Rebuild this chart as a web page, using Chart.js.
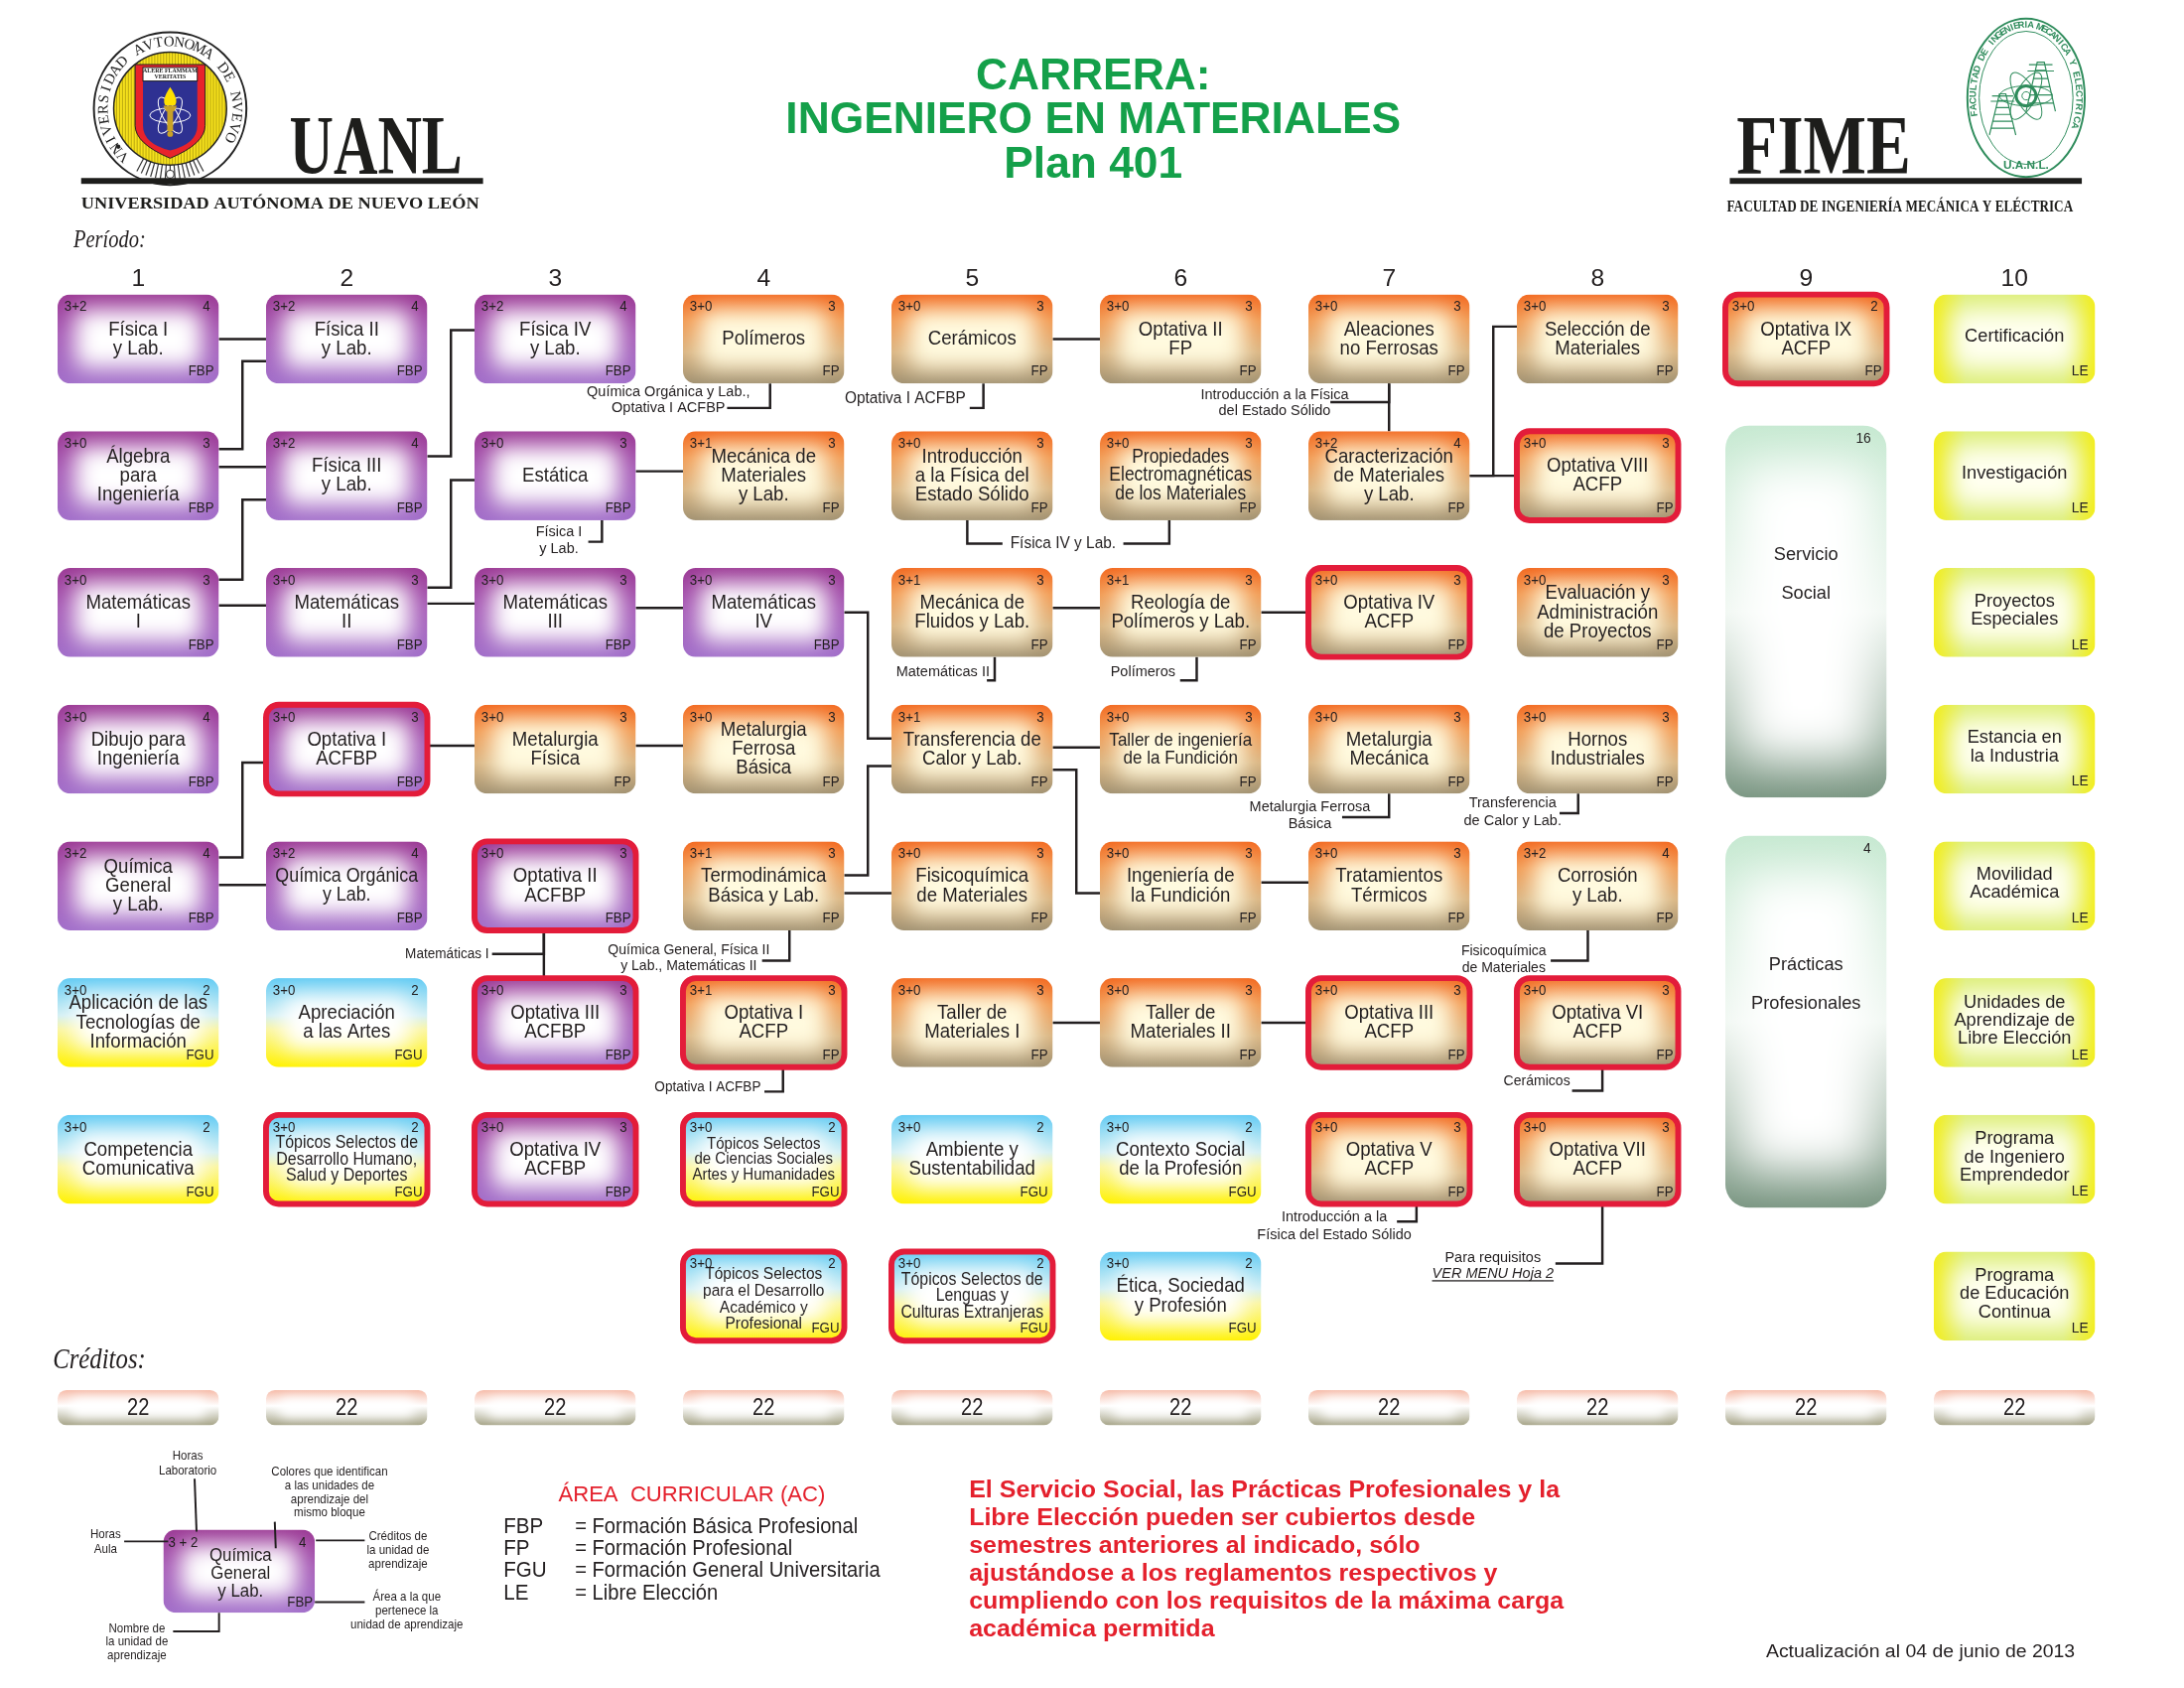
<!DOCTYPE html>
<html><head><meta charset="utf-8">
<script src="https://cdn.jsdelivr.net/npm/chart.js@4.4.0/dist/chart.umd.min.js"></script>
<style>html,body{margin:0;padding:0;background:#fff}canvas{display:block}</style>
</head><body>
<canvas id="c" width="2200" height="1700" style="width:2200px;height:1700px"></canvas>
<script>
// ===================== DATA =====================
const periodLabels = ['1','2','3','4','5','6','7','8','9','10'];
const creditsPerPeriod = [22,22,22,22,22,22,22,22,22,22];
// [name, hours (aula+lab), credits, area, elective(red frame)]
const period1 = [
  ['Física I\ny Lab.','3+2',4,'FBP',0],
  ['Álgebra\npara\nIngeniería','3+0',3,'FBP',0],
  ['Matemáticas\nI','3+0',3,'FBP',0],
  ['Dibujo para\nIngeniería','3+0',4,'FBP',0],
  ['Química\nGeneral\ny Lab.','3+2',4,'FBP',0],
  ['Aplicación de las\nTecnologías de\nInformación','3+0',2,'FGU',0],
  ['Competencia\nComunicativa','3+0',2,'FGU',0]
];
const period2 = [
  ['Física II\ny Lab.','3+2',4,'FBP',0],
  ['Física III\ny Lab.','3+2',4,'FBP',0],
  ['Matemáticas\nII','3+0',3,'FBP',0],
  ['Optativa I\nACFBP','3+0',3,'FBP',1],
  ['Química Orgánica\ny Lab.','3+2',4,'FBP',0],
  ['Apreciación\na las Artes','3+0',2,'FGU',0],
  ['Tópicos Selectos de\nDesarrollo Humano,\nSalud y Deportes','3+0',2,'FGU',1]
];
const period3 = [
  ['Física IV\ny Lab.','3+2',4,'FBP',0],
  ['Estática','3+0',3,'FBP',0],
  ['Matemáticas\nIII','3+0',3,'FBP',0],
  ['Metalurgia\nFísica','3+0',3,'FP',0],
  ['Optativa II\nACFBP','3+0',3,'FBP',1],
  ['Optativa III\nACFBP','3+0',3,'FBP',1],
  ['Optativa IV\nACFBP','3+0',3,'FBP',1]
];
const period4 = [
  ['Polímeros','3+0',3,'FP',0],
  ['Mecánica de\nMateriales\ny Lab.','3+1',3,'FP',0],
  ['Matemáticas\nIV','3+0',3,'FBP',0],
  ['Metalurgia\nFerrosa\nBásica','3+0',3,'FP',0],
  ['Termodinámica\nBásica y Lab.','3+1',3,'FP',0],
  ['Optativa I\nACFP','3+1',3,'FP',1],
  ['Tópicos Selectos\nde Ciencias Sociales\nArtes y Humanidades','3+0',2,'FGU',1],
  ['Tópicos Selectos\npara el Desarrollo\nAcadémico y\nProfesional','3+0',2,'FGU',1]
];
const period5 = [
  ['Cerámicos','3+0',3,'FP',0],
  ['Introducción\na la Física del\nEstado Sólido','3+0',3,'FP',0],
  ['Mecánica de\nFluidos y Lab.','3+1',3,'FP',0],
  ['Transferencia de\nCalor y Lab.','3+1',3,'FP',0],
  ['Fisicoquímica\nde Materiales','3+0',3,'FP',0],
  ['Taller de\nMateriales I','3+0',3,'FP',0],
  ['Ambiente y\nSustentabilidad','3+0',2,'FGU',0],
  ['Tópicos Selectos de\nLenguas y\nCulturas Extranjeras','3+0',2,'FGU',1]
];
const period6 = [
  ['Optativa II\nFP','3+0',3,'FP',0],
  ['Propiedades\nElectromagnéticas\nde los Materiales','3+0',3,'FP',0],
  ['Reología de\nPolímeros y Lab.','3+1',3,'FP',0],
  ['Taller de ingeniería\nde la Fundición','3+0',3,'FP',0],
  ['Ingeniería de\nla Fundición','3+0',3,'FP',0],
  ['Taller de\nMateriales II','3+0',3,'FP',0],
  ['Contexto Social\nde la Profesión','3+0',2,'FGU',0],
  ['Ética, Sociedad\ny Profesión','3+0',2,'FGU',0]
];
const period7 = [
  ['Aleaciones\nno Ferrosas','3+0',3,'FP',0],
  ['Caracterización\nde Materiales\ny Lab.','3+2',4,'FP',0],
  ['Optativa IV\nACFP','3+0',3,'FP',1],
  ['Metalurgia\nMecánica','3+0',3,'FP',0],
  ['Tratamientos\nTérmicos','3+0',3,'FP',0],
  ['Optativa III\nACFP','3+0',3,'FP',1],
  ['Optativa V\nACFP','3+0',3,'FP',1]
];
const period8 = [
  ['Selección de\nMateriales','3+0',3,'FP',0],
  ['Optativa VIII\nACFP','3+0',3,'FP',1],
  ['Evaluación y\nAdministración\nde Proyectos','3+0',3,'FP',0],
  ['Hornos\nIndustriales','3+0',3,'FP',0],
  ['Corrosión\ny Lab.','3+2',4,'FP',0],
  ['Optativa VI\nACFP','3+0',3,'FP',1],
  ['Optativa VII\nACFP','3+0',3,'FP',1]
];
const period9 = [
  ['Optativa IX\nACFP','3+0',2,'FP',1]
];
// [name, credits, first slot, last slot]
const period9Blocks = [
  ['Servicio\n\nSocial',16,2,4],
  ['Prácticas\n\nProfesionales',4,5,7]
];
const period10 = [
  ['Certificación','','','LE',0],
  ['Investigación','','','LE',0],
  ['Proyectos\nEspeciales','','','LE',0],
  ['Estancia en\nla Industria','','','LE',0],
  ['Movilidad\nAcadémica','','','LE',0],
  ['Unidades de\nAprendizaje de\nLibre Elección','','','LE',0],
  ['Programa\nde Ingeniero\nEmprendedor','','','LE',0],
  ['Programa\nde Educación\nContinua','','','LE',0]
];
const periods = [period1,period2,period3,period4,period5,period6,period7,period8,period9,period10];

const areaLegendCodes = ['FBP','FP','FGU','LE'];
const areaLegendNames = ['= Formación Básica Profesional','= Formación Profesional','= Formación General Universitaria','= Libre Elección'];

// ===================== LAYOUT (routing of prerequisite lines) =====================
// [fromPeriod, fromSlot, toPeriod, toSlot, exit fraction, entry fraction]
const links = [
  [1,1,2,1,.5,.5],[1,2,2,1,.2,.75],[1,2,2,2,.4,.4],[1,3,2,2,.13,.77],[1,3,2,3,.42,.42],
  [2,2,3,1,.28,.4],[2,3,3,2,.22,.55],[2,3,3,3,.4,.4],
  [3,2,4,2,.45,.45],[3,3,4,3,.45,.45],
  [5,1,6,1,.5,.5],[7,2,8,1,.5,.36],[7,2,8,2,.5,.5],
  [4,3,5,4,.5,.38],[4,5,5,4,.38,.69],[4,5,5,5,.58,.58],
  [5,3,6,3,.45,.45],[6,3,7,3,.5,.5],
  [5,4,6,4,.48,.48],[5,4,6,5,.73,.58],[6,5,7,5,.46,.46],
  [2,4,3,4,.46,.46],[3,4,4,4,.46,.46],
  [1,5,2,4,.18,.65],[1,5,2,5,.49,.49],
  [5,6,6,6,.5,.5],[6,6,7,6,.5,.5]
];
// vertical: [period, fromSlot, toSlot, x fraction]
const vlinks = [[3,5,6,.43],[7,1,2,.5]];
// annotations: [period, slot, xFrac, drop, dir, barLen, lines, textDx, textDy, lineGap, size]
const notes = [
  [3,2,.79,22,'L',14,['Física I','y Lab.'],-30,-10,17,15.5],
  [4,1,.54,25,'L',44,['Química Orgánica y Lab.,','Optativa I ACFBP'],-60,-16,16,15.5],
  [5,1,.57,25,'L',14,['Optativa I ACFBP'],-66,-9,16,16.5],
  [7,1,.5,19,'L',60,['Introducción a la Física','del Estado Sólido'],-57,-7,16,15.5],
  [5,2,.47,24,'R',36,['Física IV y Lab.'],62,0,16,16.5],
  [6,2,.43,24,'L',47,[],0,0,16,15.5],
  [5,3,.64,24,'L',8,['Matemáticas II'],-45,-9,16,15.5],
  [6,3,.6,24,'L',17,['Polímeros'],-38,-9,16,15.5],
  [7,4,.5,24,'L',48,['Metalurgia Ferrosa','Básica'],-33,-10,17,15.5],
  [8,4,.38,20,'L',19,['Transferencia','de Calor y Lab.'],-48,-10,18,15.5],
  [3,5,.43,24,'L',53,['Matemáticas I'],-46,0,16,14.5],
  [4,5,.66,31,'L',28,['Química General, Física II','y Lab., Matemáticas II'],-75,-11,16,15],
  [4,6,.62,25,'L',19,['Optativa I ACFBP'],-58,-4,16,14.5],
  [8,5,.44,31,'L',38,['Fisicoquímica','de Materiales'],-48,-10,17,15],
  [8,6,.53,24,'L',31,['Cerámicos'],-36,-10,16,15],
  [7,7,.67,18,'L',20,['Introducción a la','Física del Estado Sólido'],-64,-4,18,15.5],
  [8,7,.53,61,'L',48,['Para requisitos','VER MENU Hoja 2'],-64,-6,16,15.5]
];

// ===================== DRAWING =====================
const INK = '#231f20';
const K = 0.985;            // overall drawing scale
const BOX_W = 165, BOX_H = 91, BOX_R = 13;
const PERIOD_ROW = 0.58, CREDIT_ROW = 8.83;
const STYLES = {
  FBP:{stops:[[0,'#9c3a95'],[0.45,'#a75cb7'],[1,'#a26fca']],center:'#ffffff',ix:18,iy:16,blur:11},
  FP:{stops:[[0,'#f36a21'],[0.3,'#f29c55'],[0.65,'#dab582'],[1,'#a29272']],center:'#fffadf',ix:18,iy:16,blur:11},
  FGU:{stops:[[0,'#64ccf4'],[0.42,'#d4f0f4'],[0.58,'#fbf6a0'],[1,'#fff200']],center:'#ffffff',ix:18,iy:18,blur:11},
  LE:{hstops:[[0,'#f3ee1a'],[0.2,'#dcee76'],[0.8,'#dcee76'],[1,'#f3ee1a']],center:'#fffff0',ix:18,iy:14,blur:12},
  SS:{stops:[[0,'#c6e9d1'],[0.5,'#eef6f0'],[1,'#7a9682']],center:'#ffffff',ix:16,iy:40,blur:24},
  CR:{stops:[[0,'#f6bcaa'],[0.45,'#ffffff'],[1,'#a6a488']],center:'#ffffff',ix:12,iy:8,blur:6}
};

function rr(ctx,x,y,w,h,r){
  ctx.beginPath();ctx.moveTo(x+r,y);ctx.arcTo(x+w,y,x+w,y+h,r);ctx.arcTo(x+w,y+h,x,y+h,r);
  ctx.arcTo(x,y+h,x,y,r);ctx.arcTo(x,y,x+w,y,r);ctx.closePath();
}
function drawBox(ctx,x,y,w,h,r,st,red){
  ctx.save();
  rr(ctx,x,y,w,h,r);ctx.clip();
  let g;
  if(st.hstops){g=ctx.createLinearGradient(x,0,x+w,0);st.hstops.forEach(s=>g.addColorStop(s[0],s[1]));}
  else{g=ctx.createLinearGradient(0,y,0,y+h);st.stops.forEach(s=>g.addColorStop(s[0],s[1]));}
  ctx.fillStyle=g;ctx.fillRect(x,y,w,h);
  ctx.filter='blur('+st.blur+'px)';
  ctx.fillStyle=st.center;
  const ih=h-2*st.iy;
  rr(ctx,x+st.ix,y+st.iy,w-2*st.ix,ih,Math.min(10,ih/2));ctx.fill();
  ctx.filter='none';
  ctx.restore();
  if(red){ctx.save();ctx.lineWidth=6;ctx.strokeStyle='#e31c3a';rr(ctx,x,y,w,h,r);ctx.stroke();ctx.restore();}
}
function T(ctx,s,x,y,o){
  o=o||{};
  const size=o.size||16, fam=o.fam||'Liberation Sans', wt=o.weight||'normal', sty=o.style||'normal';
  ctx.save();
  ctx.font=sty+' '+wt+' '+size+'px "'+fam+'"';
  ctx.fillStyle=o.color||INK;ctx.textBaseline=o.baseline||'middle';ctx.textAlign=o.align||'center';
  let w=ctx.measureText(s).width;
  let sx=o.sx||1; if(o.fit){sx=o.fit/w;}
  ctx.translate(x,y);ctx.scale(sx,1);ctx.fillText(s,0,0);
  if(o.underline){
    let x0 = o.align==='left'?0:(o.align==='right'?-w:-w/2);
    ctx.fillRect(x0,size*0.45,w,1.3);
  }
  ctx.restore();
  return w*sx;
}
function nameBlock(ctx,lines,cx,cy,maxW,base,sx,fam,lhf){
  ctx.save();
  ctx.font=base+'px "'+fam+'"';
  const mw=Math.max.apply(null,lines.map(l=>ctx.measureText(l).width))*sx;
  let size=base; if(mw>maxW) size=base*maxW/mw;
  ctx.restore();
  const lh=size*(lhf||0.95);
  lines.forEach((l,i)=>T(ctx,l,cx,cy+(i-(lines.length-1)/2)*lh,{size:size,sx:sx,fam:fam}));
}
function arcText(ctx,str,cx,cy,rx,ry,a0,a1){
  const n=str.length;
  for(let i=0;i<n;i++){
    const a=(a0+(a1-a0)*(i+0.5)/n)*Math.PI/180;
    const px=cx+rx*Math.cos(a), py=cy+ry*Math.sin(a);
    const rot=Math.atan2(Math.sin(a)/ry,Math.cos(a)/rx)+Math.PI/2;
    ctx.save();ctx.translate(px,py);ctx.rotate(rot);ctx.fillText(str[i],0,0);ctx.restore();
  }
}

function drawUANLSeal(ctx,cx,cy,R){
  ctx.save();
  ctx.beginPath();ctx.arc(cx,cy,R,0,Math.PI*2);ctx.fillStyle='#fff';ctx.fill();
  ctx.lineWidth=2;ctx.strokeStyle='#222';ctx.stroke();
  const r2=R*0.74;
  ctx.strokeStyle='#333';ctx.lineWidth=1.2;
  for(let a=62;a<=118;a+=4){const t=a*Math.PI/180;ctx.beginPath();ctx.moveTo(cx+r2*Math.cos(t),cy+r2*Math.sin(t));ctx.lineTo(cx+R*0.93*Math.cos(t),cy+R*0.93*Math.sin(t));ctx.stroke();}
  ctx.beginPath();ctx.arc(cx,cy+R*0.86,4,0,Math.PI*2);ctx.fillStyle='#fff';ctx.fill();ctx.stroke();
  ctx.beginPath();ctx.arc(cx-R*0.68,cy+R*0.5,2.2,0,Math.PI*2);ctx.fillStyle='#222';ctx.fill();
  ctx.beginPath();ctx.arc(cx,cy,r2,0,Math.PI*2);ctx.fillStyle='#f6e11c';ctx.fill();
  ctx.save();ctx.clip();ctx.strokeStyle='rgba(110,95,0,0.45)';ctx.lineWidth=1;
  for(let x=cx-r2;x<cx+r2;x+=3){ctx.beginPath();ctx.moveTo(x,cy-r2);ctx.lineTo(x,cy+r2);ctx.stroke();}
  ctx.restore();
  ctx.beginPath();ctx.arc(cx,cy,r2,0,Math.PI*2);ctx.strokeStyle='#222';ctx.lineWidth=1.5;ctx.stroke();
  const sw=r2*0.62, top=cy-r2*0.78;
  function shield(inset){
    ctx.beginPath();
    ctx.moveTo(cx-sw+inset,top+inset);ctx.lineTo(cx+sw-inset,top+inset);
    ctx.lineTo(cx+sw-inset,cy+r2*0.3);
    ctx.quadraticCurveTo(cx+sw-inset,cy+r2*0.62,cx,cy+r2*0.88-inset);
    ctx.quadraticCurveTo(cx-sw+inset,cy+r2*0.62,cx-sw+inset,cy+r2*0.3);
    ctx.closePath();
  }
  shield(0);ctx.fillStyle='#e8232b';ctx.fill();ctx.strokeStyle='#222';ctx.lineWidth=1;ctx.stroke();
  shield(8);ctx.fillStyle='#2e3192';ctx.fill();
  ctx.fillStyle='#fff';ctx.fillRect(cx-sw+8,top+3,2*sw-16,r2*0.24);
  ctx.strokeStyle='#222';ctx.strokeRect(cx-sw+8,top+3,2*sw-16,r2*0.24);
  ctx.fillStyle='#222';ctx.font='bold 6px "Liberation Serif"';ctx.textAlign='center';ctx.textBaseline='middle';
  ctx.fillText('ALERE FLAMMAM',cx,top+3+r2*0.07);ctx.fillText('VERITATIS',cx,top+3+r2*0.17);
  ctx.strokeStyle='#ffffff';ctx.lineWidth=1;
  for(let k=0;k<3;k++){ctx.save();ctx.translate(cx,cy+r2*0.12);ctx.rotate(k*Math.PI/3);ctx.beginPath();ctx.ellipse(0,0,r2*0.36,r2*0.13,0,0,Math.PI*2);ctx.stroke();ctx.restore();}
  ctx.fillStyle='#c9a227';ctx.fillRect(cx-3,cy-r2*0.05,6,r2*0.45);
  ctx.beginPath();ctx.arc(cx,cy+r2*0.45,3,0,Math.PI*2);ctx.fill();
  ctx.beginPath();ctx.moveTo(cx-7,cy-r2*0.05);ctx.lineTo(cx+7,cy-r2*0.05);ctx.lineTo(cx+4,cy+r2*0.05);ctx.lineTo(cx-4,cy+r2*0.05);ctx.closePath();ctx.fill();
  ctx.fillStyle='#ffe000';ctx.beginPath();ctx.moveTo(cx,cy-r2*0.38);ctx.quadraticCurveTo(cx+9,cy-r2*0.15,cx+5,cy-r2*0.06);ctx.lineTo(cx-5,cy-r2*0.06);ctx.quadraticCurveTo(cx-9,cy-r2*0.15,cx,cy-r2*0.38);ctx.fill();
  ctx.fillStyle='#222';ctx.font='15px "Liberation Serif"';ctx.textAlign='center';ctx.textBaseline='middle';
  arcText(ctx,'VNIVERSIDAD AVTONOMA DE NVEVO',cx,cy,R*0.87,R*0.87,130,390);
  ctx.restore();
}
function drawFIMESeal(ctx,cx,cy,rx,ry){
  const G='#2f8c5c';
  ctx.save();
  ctx.strokeStyle=G;ctx.lineWidth=2;
  ctx.beginPath();ctx.ellipse(cx,cy,rx,ry,0,0,Math.PI*2);ctx.stroke();
  ctx.lineWidth=1;ctx.beginPath();ctx.ellipse(cx,cy,rx*0.8,ry*0.84,0,0,Math.PI*2);ctx.stroke();
  ctx.fillStyle=G;ctx.font='bold 9.5px "Liberation Sans"';ctx.textAlign='center';ctx.textBaseline='middle';
  arcText(ctx,'FACULTAD DE INGENIERIA MECANICA Y ELECTRICA',cx,cy,rx*0.9,ry*0.92,165,385);
  ctx.font='bold 12px "Liberation Sans"';ctx.fillText('U.A.N.L.',cx,cy+ry*0.86);
  ctx.lineWidth=1;
  for(let k=0;k<3;k++){ctx.save();ctx.translate(cx,cy-2);ctx.rotate(k*Math.PI/3);ctx.beginPath();ctx.ellipse(0,0,rx*0.45,rx*0.17,0,0,Math.PI*2);ctx.stroke();ctx.restore();}
  ctx.beginPath();ctx.arc(cx,cy-2,rx*0.17,0,Math.PI*2);ctx.lineWidth=3;ctx.stroke();
  ctx.lineWidth=1;ctx.beginPath();ctx.arc(cx,cy-2,rx*0.07,0,Math.PI*2);ctx.stroke();
  function tower(tx,ty,h,w){
    ctx.beginPath();
    ctx.moveTo(tx-w/2,ty+h);ctx.lineTo(tx-w*0.12,ty);ctx.lineTo(tx+w*0.12,ty);ctx.lineTo(tx+w/2,ty+h);
    for(let i=1;i<6;i++){const yy=ty+h*i/6;const ww=w*0.12+(w/2-w*0.12)*i/6;ctx.moveTo(tx-ww,yy);ctx.lineTo(tx+ww,yy);}
    ctx.moveTo(tx-w*0.45,ty+h*0.18);ctx.lineTo(tx+w*0.45,ty+h*0.18);
    ctx.moveTo(tx-w*0.4,ty+h*0.05);ctx.lineTo(tx+w*0.4,ty+h*0.05);
    ctx.stroke();
  }
  ctx.lineWidth=1.2;
  tower(cx-rx*0.4,cy-ry*0.05,ry*0.52,rx*0.45);
  tower(cx+rx*0.25,cy-ry*0.45,ry*0.62,rx*0.5);
  ctx.restore();
}

const mapPlugin = {
  id:'curriculumMap',
  beforeDraw(chart){const c=chart.ctx;c.save();c.fillStyle='#fff';c.fillRect(0,0,chart.width,chart.height);c.restore();},
  afterDatasetsDraw(chart){
    const ctx=chart.ctx, xs=chart.scales.x, ys=chart.scales.y;
    ctx.save();
    ctx.scale(K,K);
    const X=v=>xs.getPixelForValue(v), Y=v=>ys.getPixelForValue(v);
    const rect=(p,s)=>{const cx=X(p),cy=Y(s)+2;return {x:cx-BOX_W/2,y:cy-BOX_H/2,w:BOX_W,h:BOX_H,cx:cx,cy:cy};};

    // ---------- header ----------
    drawUANLSeal(ctx,174,111,78);
    T(ctx,'UANL',296,178,{size:86,fam:'Liberation Serif',weight:'bold',align:'left',baseline:'alphabetic',fit:177,color:'#1d1d1b'});
    ctx.fillStyle='#1d1d1b';ctx.fillRect(83,182,411,6);
    T(ctx,'UNIVERSIDAD AUTÓNOMA DE NUEVO LEÓN',83,209,{size:18,fam:'Liberation Serif',weight:'bold',align:'left',fit:407,color:'#1d1d1b'});
    T(ctx,'Período:',75,246,{size:25,fam:'Liberation Serif',style:'italic',align:'left',fit:74});
    drawFIMESeal(ctx,2072,100,60,81);
    T(ctx,'FIME',1776,178,{size:86,fam:'Liberation Serif',weight:'bold',align:'left',baseline:'alphabetic',fit:178,color:'#1d1d1b'});
    ctx.fillStyle='#1d1d1b';ctx.fillRect(1769,182,360,6);
    T(ctx,'FACULTAD DE INGENIERÍA MECÁNICA Y ELÉCTRICA',1766,212,{size:18,fam:'Liberation Serif',weight:'bold',align:'left',fit:354,color:'#1d1d1b'});
    const GREEN='#14a04a';
    T(ctx,'CARRERA:',1118,79,{size:45,weight:'bold',color:GREEN});
    T(ctx,'INGENIERO EN MATERIALES',1118,124,{size:45,weight:'bold',color:GREEN});
    T(ctx,'Plan 401',1118,169,{size:45,weight:'bold',color:GREEN});

    periodLabels.forEach((lab,i)=>T(ctx,lab,X(i+1),Y(PERIOD_ROW),{size:25}));

    // ---------- connectors ----------
    ctx.save();ctx.strokeStyle=INK;ctx.lineWidth=2.5;ctx.lineJoin='miter';
    links.forEach(l=>{
      const a=rect(l[0],l[1]), b=rect(l[2],l[3]);
      const x1=a.x+a.w, y1=a.y+l[4]*a.h, x2=b.x, y2=b.y+l[5]*b.h, xm=(x1+x2)/2;
      ctx.beginPath();ctx.moveTo(x1,y1);
      if(Math.abs(y1-y2)<1.5){ctx.lineTo(x2,y1);} else {ctx.lineTo(xm,y1);ctx.lineTo(xm,y2);ctx.lineTo(x2,y2);}
      ctx.stroke();
    });
    vlinks.forEach(v=>{
      const a=rect(v[0],v[1]), b=rect(v[0],v[2]);
      const x=a.x+v[3]*a.w;
      ctx.beginPath();ctx.moveTo(x,a.y+a.h);ctx.lineTo(x,b.y);ctx.stroke();
    });
    notes.forEach(n=>{
      const a=rect(n[0],n[1]);
      const vx=a.x+n[2]*a.w, by=a.y+a.h+n[3];
      const ex= n[4]==='L'? vx-n[5] : vx+n[5];
      ctx.beginPath();ctx.moveTo(vx,a.y+a.h);ctx.lineTo(vx,by);ctx.lineTo(ex,by);ctx.stroke();
      n[6].forEach((s,i)=>{
        const last=(s==='VER MENU Hoja 2');
        T(ctx,s,ex+n[7],by+n[8]+i*n[9],{size:n[10],sx:0.95,style:last?'italic':'normal',underline:last});
      });
    });
    ctx.restore();

    // ---------- course boxes ----------
    periods.forEach((list,pi)=>{
      list.forEach((c,si)=>{
        const r=rect(pi+1,si+1);
        const st=STYLES[c[3]];
        drawBox(ctx,r.x,r.y,r.w,r.h,BOX_R,st,c[4]);
        const lines=c[0].split('\n');
        if(c[3]==='LE'){
          nameBlock(ctx,lines,r.cx,r.cy-2,146,18.5,1,'Liberation Sans',1.0);
          T(ctx,'LE',r.x+r.w-7,r.y+r.h-12,{size:14,align:'right'});
        }else{
          if(lines.length>=4) nameBlock(ctx,lines,r.cx,r.cy+3,140,17.5,0.9,'Liberation Sans',0.98);
          else nameBlock(ctx,lines,r.cx,r.cy,146,21,0.9,'Liberation Sans',0.93);
          T(ctx,c[1],r.x+7,r.y+13,{size:15,sx:0.9,align:'left'});
          T(ctx,String(c[2]),r.x+r.w-9,r.y+13,{size:15,sx:0.9,align:'right'});
          T(ctx,c[3],r.x+r.w-5,r.y+r.h-12,{size:15,sx:0.9,align:'right'});
        }
      });
    });
    period9Blocks.forEach(b=>{
      const t=rect(9,b[2]), e=rect(9,b[3]);
      const x=t.x, y=t.y-6, h=e.y+e.h+4-y;
      drawBox(ctx,x,y,BOX_W,h,24,STYLES.SS,0);
      T(ctx,String(b[1]),x+BOX_W-16,y+14,{size:14,align:'right'});
      const lines=b[0].split('\n');
      const cy=y+h*0.4;
      lines.forEach((s,i)=>T(ctx,s,x+BOX_W/2,cy+(i-(lines.length-1)/2)*20,{size:18.5}));
    });

    // ---------- credits row ----------
    T(ctx,'Créditos:',54,1391,{size:30,fam:'Liberation Serif',style:'italic',align:'left',fit:95});
    creditsPerPeriod.forEach((v,i)=>{
      const cx=X(i+1), cy=Y(CREDIT_ROW);
      drawBox(ctx,cx-BOX_W/2,cy-18,BOX_W,36,9,STYLES.CR,0);
      T(ctx,String(v),cx,cy+1,{size:24,sx:0.85});
    });

    // ---------- bottom legend ----------
    drawBox(ctx,167,1564,155,85,13,STYLES.FBP,0);
    T(ctx,'3 + 2',172,1578,{size:15,sx:0.9,align:'left'});
    T(ctx,'4',313,1578,{size:15,sx:0.9,align:'right'});
    T(ctx,'Química',246,1591,{size:19,sx:0.9});
    T(ctx,'General',246,1609,{size:19,sx:0.9});
    T(ctx,'y Lab.',246,1627,{size:19,sx:0.9});
    T(ctx,'FBP',320,1638,{size:15,sx:0.9,align:'right'});
    ctx.save();ctx.strokeStyle=INK;ctx.lineWidth=2;
    [[[199,1512],[201,1566]],[[281,1556],[282,1583]],[[127,1576],[172,1576]],[[323,1575],[373,1575]],[[322,1638],[373,1638]],[[224,1649],[224,1668],[177,1668]]].forEach(p=>{
      ctx.beginPath();ctx.moveTo(p[0][0],p[0][1]);for(let i=1;i<p.length;i++)ctx.lineTo(p[i][0],p[i][1]);ctx.stroke();
    });
    ctx.restore();
    const small={size:13,sx:0.9};
    [['Horas',192,1489],['Laboratorio',192,1504],
     ['Colores que identifican',337,1505],['a las unidades de',337,1519],['aprendizaje del',337,1533],['mismo bloque',337,1547],
     ['Horas',108,1569],['Aula',108,1584],
     ['Créditos de',407,1571],['la unidad de',407,1585],['aprendizaje',407,1599],
     ['Área a la que',416,1633],['pertenece la',416,1647],['unidad de aprendizaje',416,1661],
     ['Nombre de',140,1665],['la unidad de',140,1679],['aprendizaje',140,1693]
    ].forEach(t=>T(ctx,t[0],t[1],t[2],small));

    const RED='#e4202c';
    T(ctx,'ÁREA  CURRICULAR (AC)',571,1529,{size:23,color:RED,align:'left',fit:273});
    areaLegendCodes.forEach((c,i)=>{
      T(ctx,c,515,1561+i*22.7,{size:22,align:'left',sx:0.95});
      T(ctx,areaLegendNames[i],588,1561+i*22.7,{size:22,align:'left',sx:0.93});
    });
    const para=['El Servicio Social, las Prácticas Profesionales y la','Libre Elección pueden ser cubiertos desde','semestres anteriores al indicado, sólo','ajustándose a los reglamentos respectivos y','cumpliendo con los requisitos de la máxima carga','académica permitida'];
    ctx.save();ctx.font='bold 25px "Liberation Sans"';const pw=ctx.measureText(para[0]).width;ctx.restore();
    para.forEach((s,i)=>T(ctx,s,991,1524+i*28.4,{size:25,weight:'bold',color:RED,align:'left',sx:604/pw}));
    T(ctx,'Actualización al 04 de junio de 2013',1806,1689,{size:18,align:'left',fit:316});
    ctx.restore();
  }
};

const coursePoints = [];
periods.forEach((list,pi)=>list.forEach((c,si)=>coursePoints.push({x:pi+1,y:si+1})));

new Chart(document.getElementById('c'),{
  type:'scatter',
  data:{datasets:[{label:'Unidades de aprendizaje',data:coursePoints,pointRadius:0,pointHoverRadius:0}]},
  options:{
    responsive:false,animation:false,devicePixelRatio:1,
    layout:{padding:0},
    plugins:{legend:{display:false},tooltip:{enabled:false},title:{display:false}},
    scales:{
      x:{type:'linear',min:0.337,max:10.656,display:false},
      y:{type:'linear',min:-1.465,max:10.695,reverse:true,display:false}
    }
  },
  plugins:[mapPlugin]
});
</script>
</body></html>
